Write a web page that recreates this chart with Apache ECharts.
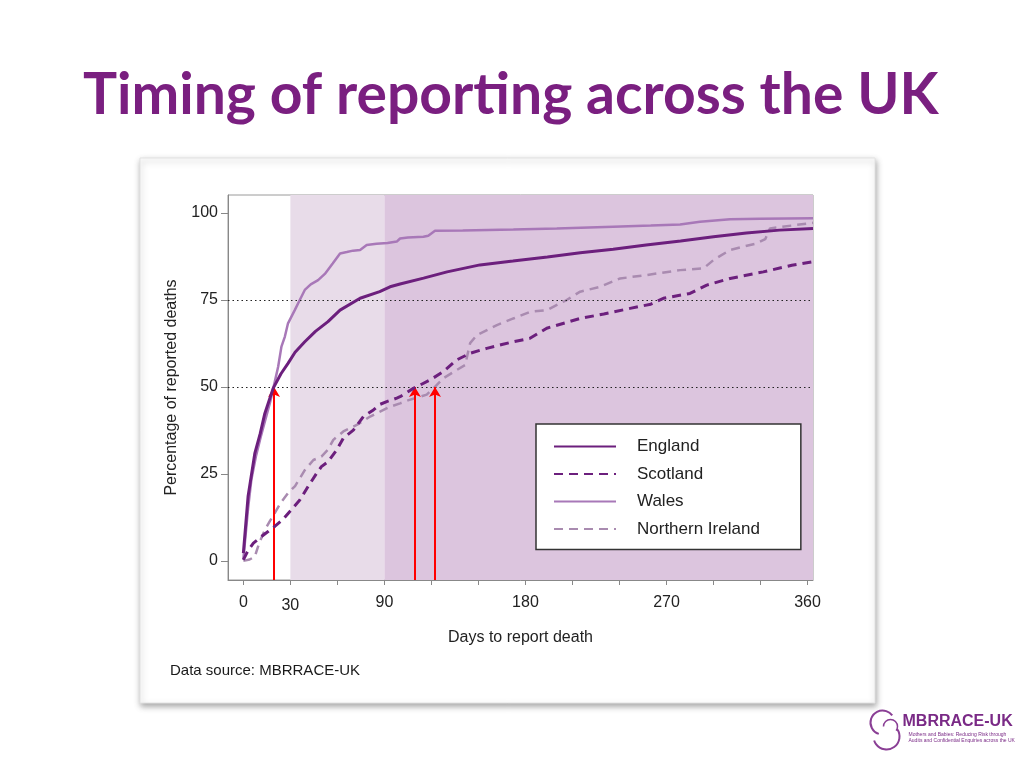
<!DOCTYPE html>
<html>
<head>
<meta charset="utf-8">
<script src="https://cdn.jsdelivr.net/npm/echarts@6/dist/echarts.min.js"></script>
<style>
html,body{margin:0;padding:0;background:#fff;}
#main{width:1024px;height:768px;}
</style>
</head>
<body>
<div id="main"></div>
<script>
// ---- data ----
var xTicks = [0, 30, 60, 90, 120, 150, 180, 210, 240, 270, 300, 330, 360];
var xTickLabels = [0, 30, 90, 180, 270, 360];
var yTickLabels = [0, 25, 50, 75, 100];

var englandDays = [0, 3, 7.3, 10.7, 13.7, 16.5, 19, 24, 28.5, 33, 39.2, 46, 54, 61.7, 74.5, 87, 93.6, 100, 115, 130, 151, 172, 194, 215, 236, 257, 279, 300, 321, 342, 363.5];
var englandPct  = [2.2, 18.5, 30.9, 36.5, 42.4, 46.2, 49.6, 53.8, 56.8, 60, 63.0, 66, 68.8, 72.1, 75.5, 77.4, 78.8, 79.6, 81.3, 83.1, 85.1, 86.2, 87.4, 88.6, 89.6, 90.8, 92.0, 93.2, 94.3, 95.1, 95.6];

var walesDays = [0, 3, 5.1, 8, 11, 14, 17, 19.1, 22.2, 24.3, 26.5, 28.5, 32.8, 36, 39.2, 43, 47.7, 52, 57, 61.7, 66, 70, 74.5, 78.7, 85, 92, 97.9, 100, 105, 114.9, 118, 122.3, 140, 172.3, 200, 236, 260, 278.7, 291.4, 310.6, 330, 363.5];
var walesPct  = [0.5, 15, 23.3, 30, 35.5, 40.5, 45.5, 49.6, 55.8, 61.6, 64.5, 68.3, 72.1, 75, 77.9, 79.5, 80.7, 82.5, 85.5, 88.4, 88.8, 89.2, 89.4, 90.8, 91.2, 91.4, 91.8, 92.7, 93, 93.2, 93.5, 94.9, 95, 95.3, 95.6, 96.1, 96.4, 96.7, 97.5, 98.2, 98.4, 98.5];

var scotlandDays = [0, 3, 6.4, 11.5, 16, 20, 25, 30.6, 36, 41.3, 46.8, 49.8, 54, 59.6, 63.8, 70.2, 76.6, 83, 87.2, 91.5, 97.9, 100, 108.5, 113, 119.1, 127.6, 136.2, 144.7, 155.3, 165, 172.3, 182.9, 193.6, 214.9, 230, 246.8, 260, 268, 285, 295.7, 310.6, 331.8, 350, 363.5];
var scotlandPct  = [0.3, 3, 5.1, 7, 8.5, 9.9, 11.8, 14.7, 17.5, 21.4, 25.2, 27.1, 28.5, 31.9, 35.3, 37.6, 41.5, 43.4, 45.0, 45.8, 46.8, 47.2, 49.6, 50.6, 52.0, 54.4, 57.8, 59.7, 61.1, 62.2, 63.0, 64.0, 66.9, 69.7, 71.0, 72.6, 73.8, 75.5, 76.9, 79.3, 81.2, 83.1, 85, 86.0];

var irelandDays = [0, 4, 7.3, 10, 13.7, 17, 20, 24, 28.5, 33, 39.2, 44.7, 49.8, 54, 57.4, 63.8, 72.4, 80.9, 87.2, 93, 100, 106, 112.8, 117, 121.3, 127.6, 136.2, 141.5, 144.7, 149, 161.8, 172.3, 182.9, 193.6, 206.3, 214.9, 227.6, 240.4, 257.4, 278.7, 293.6, 300, 310.6, 327.6, 333, 336.1, 353.1, 363.5];
var irelandPct  = [0, 0.4, 1.2, 5, 8.9, 11.5, 13.7, 16.8, 19.5, 21.5, 26.1, 29.0, 30.0, 32.0, 34.8, 37.2, 39.1, 41.5, 42.9, 44.2, 45.3, 46.3, 47.2, 47.8, 49.6, 52.5, 54.9, 56.3, 62.6, 64.9, 67.8, 69.7, 71.6, 72.1, 75.0, 77.4, 78.8, 81.2, 82.2, 83.6, 84.1, 86.5, 89.4, 91.3, 92.5, 95.6, 96.6, 97.2];

var medianDays = [19.6, 109.5, 122.3];
var refLines = [50, 75];
var seriesNames = ['England', 'Scotland', 'Wales', 'Northern Ireland'];

function zip(a, b) { return a.map(function (v, i) { return [v, b[i]]; }); }

var DARK = '#6c1f7d', LIGHT = '#a878b8', GREYP = '#a98bb0';
var FONT = '"Liberation Sans", Arial, sans-serif';

var chart = echarts.init(document.getElementById('main'));
chart.setOption({
  animation: false,
  backgroundColor: '#ffffff',
  textStyle: { fontFamily: FONT },
  title: {
    text: 'Timing of reporting across the UK',
    left: 78, top: 62,
    textStyle: { fontFamily: 'Lato, "Open Sans", sans-serif', fontWeight: 'bold', fontSize: 57, color: '#7a1f80' }
  },
  graphic: [
    { type: 'rect', z: -100, shape: { x: 140, y: 158, width: 735, height: 545 },
      style: { fill: '#ffffff', stroke: '#e2e2e2', lineWidth: 1, shadowBlur: 6, shadowOffsetX: 1, shadowOffsetY: 3, shadowColor: 'rgba(0,0,0,0.35)' } },
    { type: 'text', left: 170, top: 663, style: { text: 'Data source: MBRRACE-UK', font: '15px ' + FONT, fill: '#1a1a1a' } },
    // logo
    { type: 'group', left: 868, top: 708, children: [
      { type: 'arc', shape: { cx: 20, cy: 16, r: 12, startAngle: Math.PI * 0.6, endAngle: Math.PI * 1.8 }, style: { stroke: '#8a3f95', lineWidth: 2, fill: null } },
      { type: 'arc', shape: { cx: 24, cy: 30, r: 13, startAngle: -Math.PI * 0.2, endAngle: Math.PI * 0.9 }, style: { stroke: '#8a3f95', lineWidth: 2, fill: null } },
      { type: 'arc', shape: { cx: 28, cy: 20, r: 7, startAngle: Math.PI * 1.0, endAngle: Math.PI * 2.2 }, style: { stroke: '#8a3f95', lineWidth: 1.5, fill: null } },
      { type: 'text', x: 40, y: 7, style: { text: 'MBRRACE-UK', font: 'bold 16px ' + FONT, fill: '#7a2a86' } },
      { type: 'text', x: 46, y: 26, style: { text: 'Mothers and Babies: Reducing Risk through', font: '5px ' + FONT, fill: '#7a2a86' } },
      { type: 'text', x: 46, y: 32, style: { text: 'Audits and Confidential Enquiries across the UK', font: '5px ' + FONT, fill: '#7a2a86' } }
    ] }
  ],
  grid: { left: 228, right: 211, top: 195, bottom: 188, show: true, backgroundColor: '#ffffff', borderColor: '#9a9a9a', borderWidth: 1 },
  legend: {
    data: seriesNames,
    orient: 'vertical',
    left: 536, top: 424,
    backgroundColor: '#ffffff',
    borderColor: '#333333', borderWidth: 1.5, borderRadius: 0,
    padding: [14, 41, 12, 17],
    itemWidth: 62, itemHeight: 12, itemGap: 10.5,
    itemStyle: { opacity: 0 },
    textStyle: { fontSize: 17, color: '#222', padding: [0, 0, 0, 16], fontFamily: FONT }
  },
  xAxis: {
    type: 'value', min: -9.8, max: 363.5,
    name: 'Days to report death', nameLocation: 'middle', nameGap: 50,
    nameTextStyle: { fontSize: 16, color: '#222' },
    axisLine: { onZero: false, lineStyle: { color: '#888', width: 1 } },
    axisTick: { customValues: xTicks, length: 5, lineStyle: { color: '#888' } },
    axisLabel: { customValues: xTickLabels, fontSize: 16, color: '#222', margin: 15,
      formatter: function (v) { return v === 30 ? '{low|30}' : String(v); },
      rich: { low: { fontSize: 16, color: '#222', padding: [3, 0, 0, 0] } } },
    splitLine: { show: false }
  },
  yAxis: {
    type: 'value', min: -5.5, max: 105.2,
    name: 'Percentage of reported deaths', nameLocation: 'middle', nameGap: 48,
    nameTextStyle: { fontSize: 16, color: '#222' },
    axisLine: { show: true, onZero: false, lineStyle: { color: '#888', width: 1 } },
    axisTick: { show: true, customValues: yTickLabels, length: 7, lineStyle: { color: '#888' } },
    axisLabel: { customValues: yTickLabels, fontSize: 16, color: '#222', margin: 10 },
    splitLine: { show: false }
  },
  series: [
    { name: 'England', type: 'line', data: zip(englandDays, englandPct), symbol: 'none', smooth: false, z: 5,
      lineStyle: { color: DARK, width: 3 }, itemStyle: { color: DARK },
      markArea: { silent: true, data: [
        [{ xAxis: 30, itemStyle: { color: '#e8dce9' } }, { xAxis: 90 }],
        [{ xAxis: 90, itemStyle: { color: '#dcc5de' } }, { xAxis: 363.5 }]
      ] },
      markLine: { silent: true, symbol: 'none', label: { show: false },
        lineStyle: { color: '#222', type: [1.5, 3], width: 1.2 },
        data: refLines.map(function (v) { return { yAxis: v }; }) }
    },
    { name: 'Scotland', type: 'line', data: zip(scotlandDays, scotlandPct), symbol: 'none', z: 5,
      lineStyle: { color: DARK, width: 3, type: [9, 6] }, itemStyle: { color: DARK } },
    { name: 'Wales', type: 'line', data: zip(walesDays, walesPct), symbol: 'none', z: 4,
      lineStyle: { color: LIGHT, width: 2.5 }, itemStyle: { color: LIGHT } },
    { name: 'Northern Ireland', type: 'line', data: zip(irelandDays, irelandPct), symbol: 'none', z: 4,
      lineStyle: { color: GREYP, width: 2.5, type: [9, 6] }, itemStyle: { color: GREYP },
      markLine: { silent: true, symbol: ['none', 'arrow'], symbolSize: [9, 10], label: { show: false },
        lineStyle: { color: '#ff0000', width: 2, type: 'solid' },
        data: medianDays.map(function (d) { return [{ coord: [d, -5.5] }, { coord: [d, 50] }]; }) }
    }
  ]
});
</script>
</body>
</html>
